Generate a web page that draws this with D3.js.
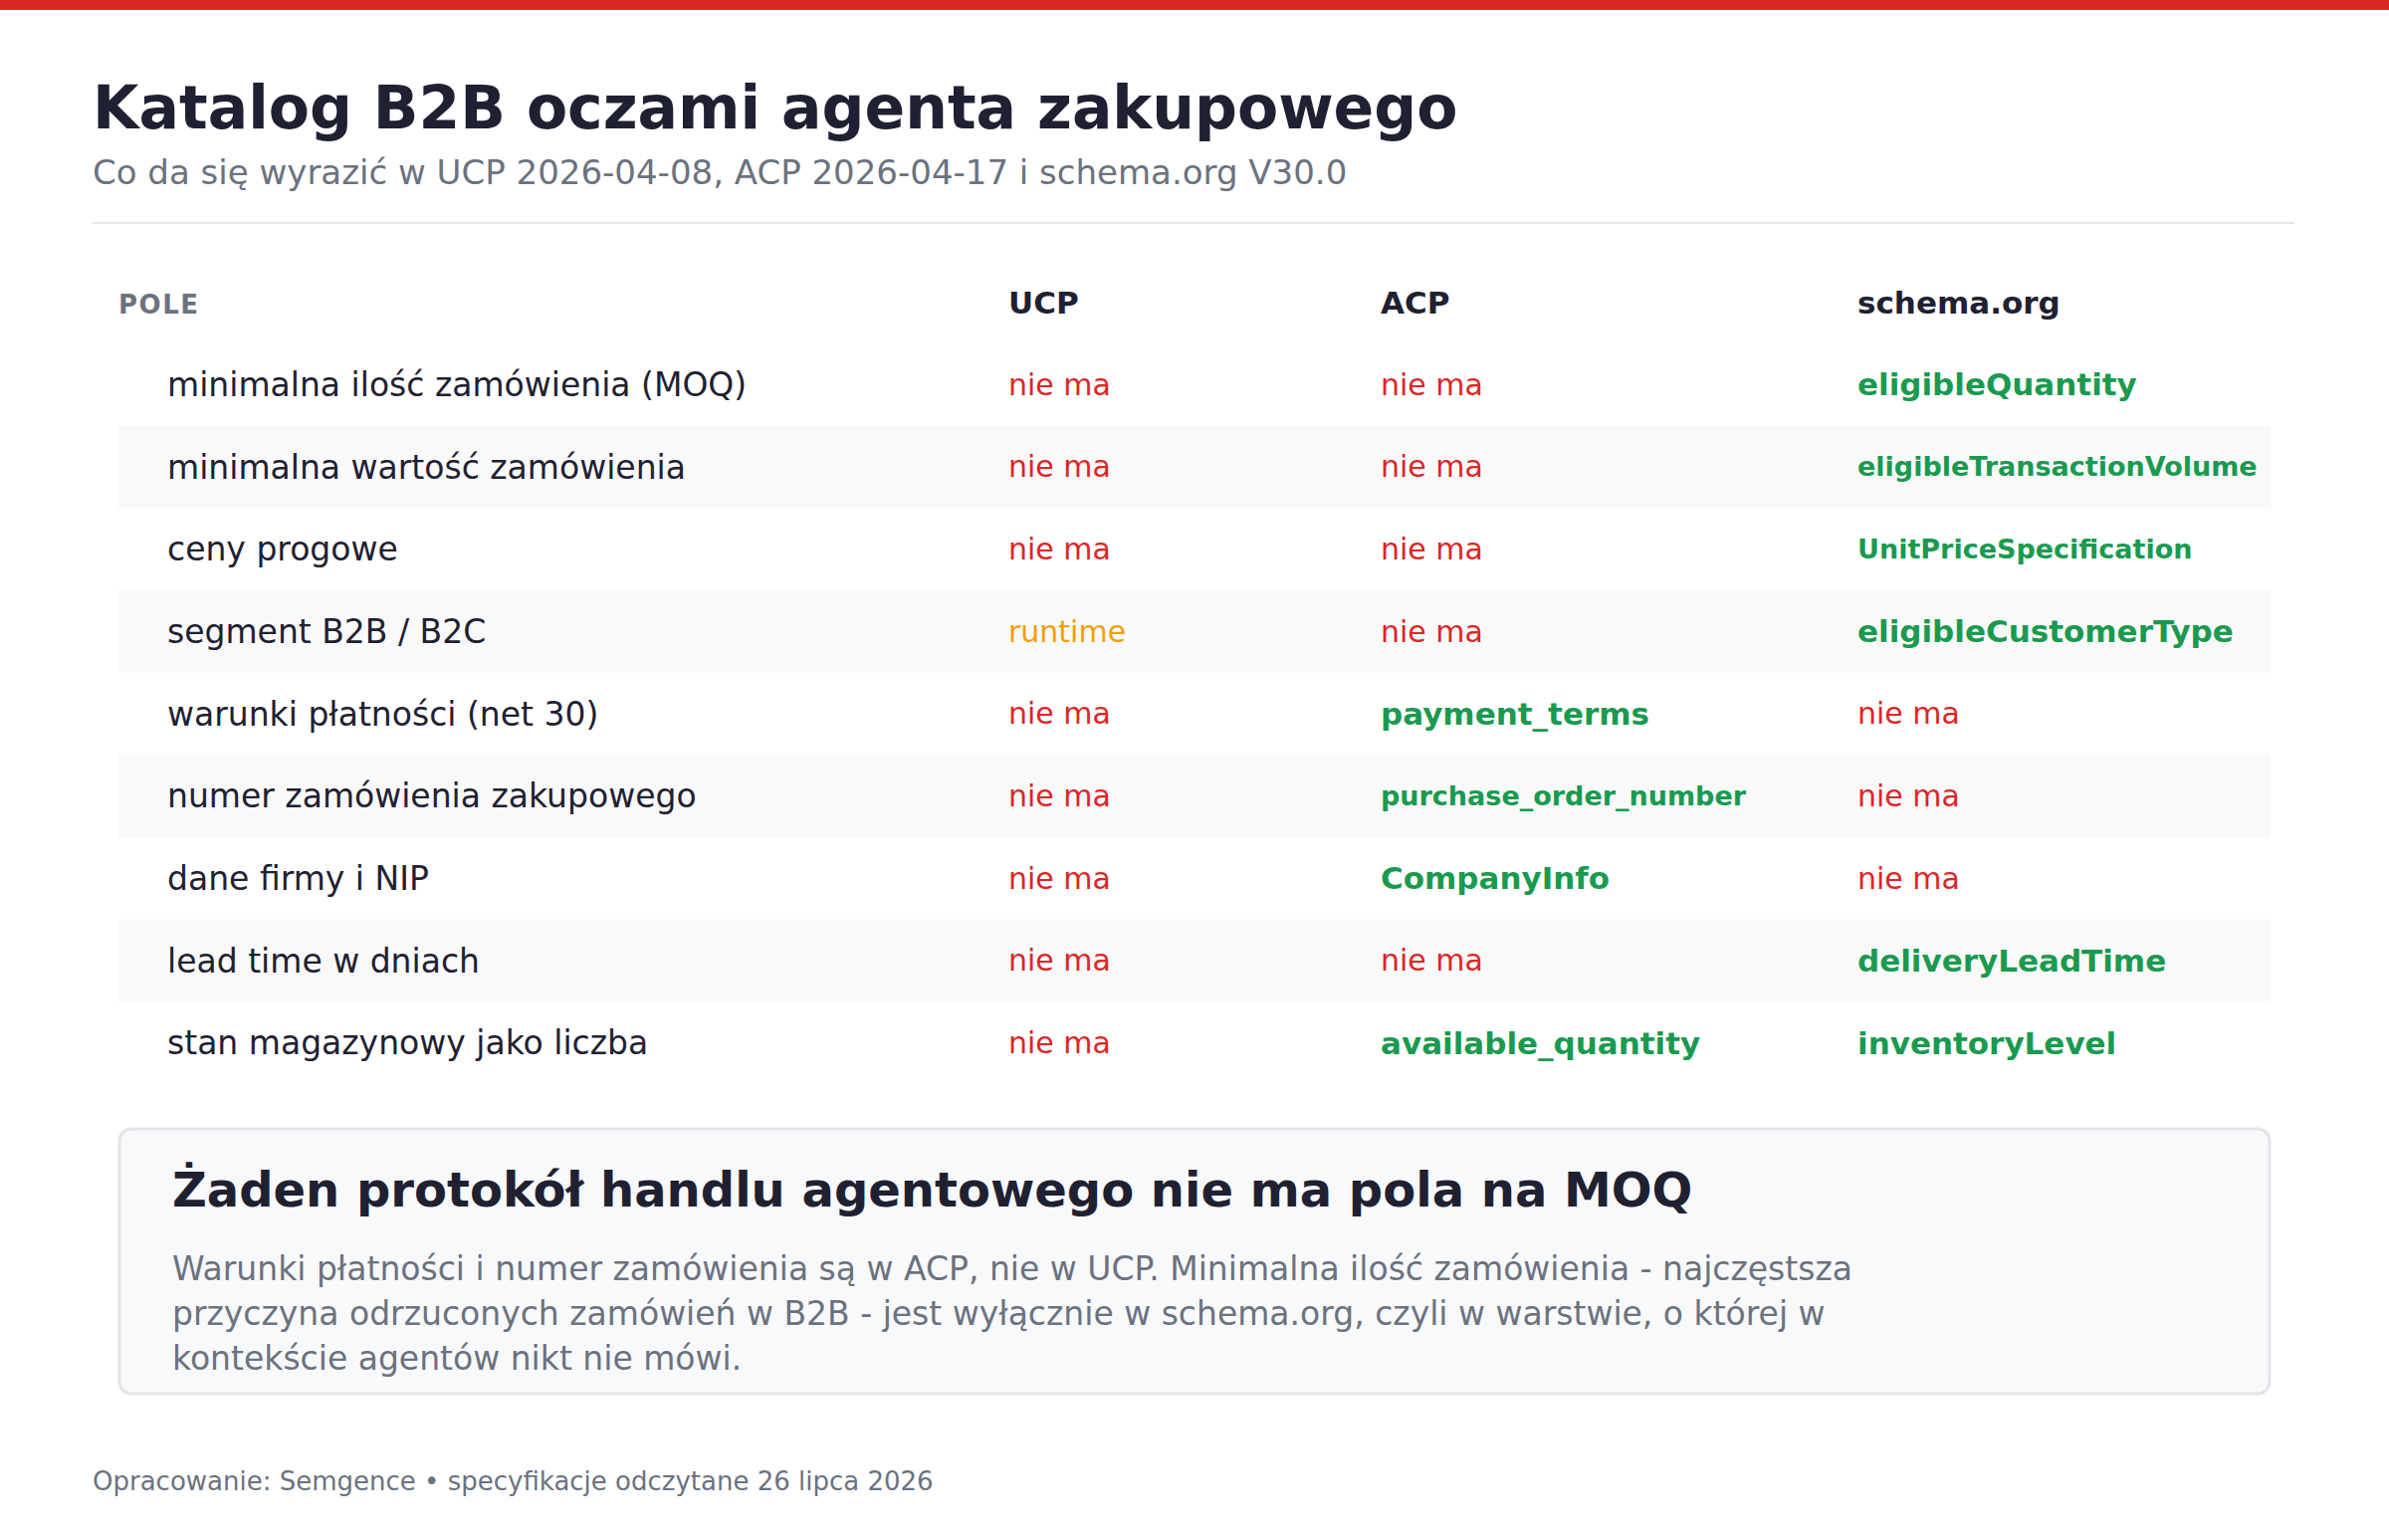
<!DOCTYPE html>
<html><head><meta charset="utf-8">
<script src="https://cdn.jsdelivr.net/npm/d3@7"></script>
<style>body{margin:0;background:#fff}svg{display:block;font-family:"DejaVu Sans",sans-serif}</style>
</head><body><svg id="c" width="2400" height="1547"></svg>
<script>
const columns = ["POLE","UCP","ACP","schema.org"];
const fields = ["minimalna ilość zamówienia (MOQ)","minimalna wartość zamówienia","ceny progowe","segment B2B / B2C","warunki płatności (net 30)","numer zamówienia zakupowego","dane firmy i NIP","lead time w dniach","stan magazynowy jako liczba"];
const ucp = ["nie ma","nie ma","nie ma","runtime","nie ma","nie ma","nie ma","nie ma","nie ma"];
const acp = ["nie ma","nie ma","nie ma","nie ma","payment_terms","purchase_order_number","CompanyInfo","nie ma","available_quantity"];
const schema = ["eligibleQuantity","eligibleTransactionVolume","UnitPriceSpecification","eligibleCustomerType","nie ma","nie ma","nie ma","deliveryLeadTime","inventoryLevel"];
const noteLines = ["Warunki płatności i numer zamówienia są w ACP, nie w UCP. Minimalna ilość zamówienia - najczęstsza","przyczyna odrzuconych zamówień w B2B - jest wyłącznie w schema.org, czyli w warstwie, o której w","kontekście agentów nikt nie mówi."];

const svg = d3.select("#c");
const dark="#1f2132", gray="#6b7280", red="#dc2626", green="#1a9a4f", orange="#f59e0b";
svg.append("rect").attr("width",2400).attr("height",10).attr("fill",red);
svg.append("text").attr("x",93).attr("y",129).attr("font-size",60).attr("font-weight","bold").attr("fill",dark).text("Katalog B2B oczami agenta zakupowego");
svg.append("text").attr("x",93).attr("y",185).attr("font-size",34).attr("fill",gray).text("Co da się wyrazić w UCP 2026-04-08, ACP 2026-04-17 i schema.org V30.0");
svg.append("line").attr("x1",93).attr("x2",2305).attr("y1",224).attr("y2",224).attr("stroke","#e5e7eb").attr("stroke-width",2);

const colX = d3.scaleOrdinal().domain(columns).range([119,1013,1387,1866]);
const y = d3.scaleBand().domain(d3.range(fields.length)).range([345,1089]).padding(0);
columns.forEach((c,i)=>{
  svg.append("text").attr("x",colX(c)).attr("y",315).attr("font-size",i?31:26).attr("font-weight","bold")
    .attr("letter-spacing",i?0:1.5).attr("fill",i?dark:gray).text(c);
});
const rows = svg.append("g").selectAll("g").data(fields).join("g").attr("transform",(d,i)=>`translate(0,${y(i)})`);
rows.filter((d,i)=>i%2===1).append("rect").attr("x",119).attr("width",2162).attr("height",y.bandwidth()).attr("fill","#f9f9fa");
const mid = y.bandwidth()/2;
rows.append("text").attr("x",168).attr("y",mid).attr("dy","0.35em").attr("font-size",33).attr("fill",dark).text(d=>d);
function cell(col, arr){
  rows.append("text").attr("x",colX(col)).attr("y",mid).attr("dy","0.35em")
    .attr("font-size",(d,i)=>arr[i]==="nie ma"||arr[i]==="runtime"?30:(arr[i].length>20?27:31))
    .attr("font-weight",(d,i)=>arr[i]==="nie ma"||arr[i]==="runtime"?"normal":"bold")
    .attr("fill",(d,i)=>arr[i]==="nie ma"?red:arr[i]==="runtime"?orange:green)
    .text((d,i)=>arr[i]);
}
cell("UCP",ucp); cell("ACP",acp); cell("schema.org",schema);

svg.append("rect").attr("x",120).attr("y",1134).attr("width",2160).attr("height",266).attr("rx",12)
  .attr("fill","#f8f9fb").attr("stroke","#e2e4e8").attr("stroke-width",3);
svg.append("text").attr("x",173).attr("y",1212).attr("font-size",48).attr("font-weight","bold").attr("fill",dark).text("Żaden protokół handlu agentowego nie ma pola na MOQ");
noteLines.forEach((l,i)=>svg.append("text").attr("x",173).attr("y",1286+i*45).attr("font-size",33).attr("fill",gray).text(l));
svg.append("text").attr("x",93).attr("y",1497).attr("font-size",26).attr("fill",gray).text("Opracowanie: Semgence • specyfikacje odczytane 26 lipca 2026");
</script></body></html>
